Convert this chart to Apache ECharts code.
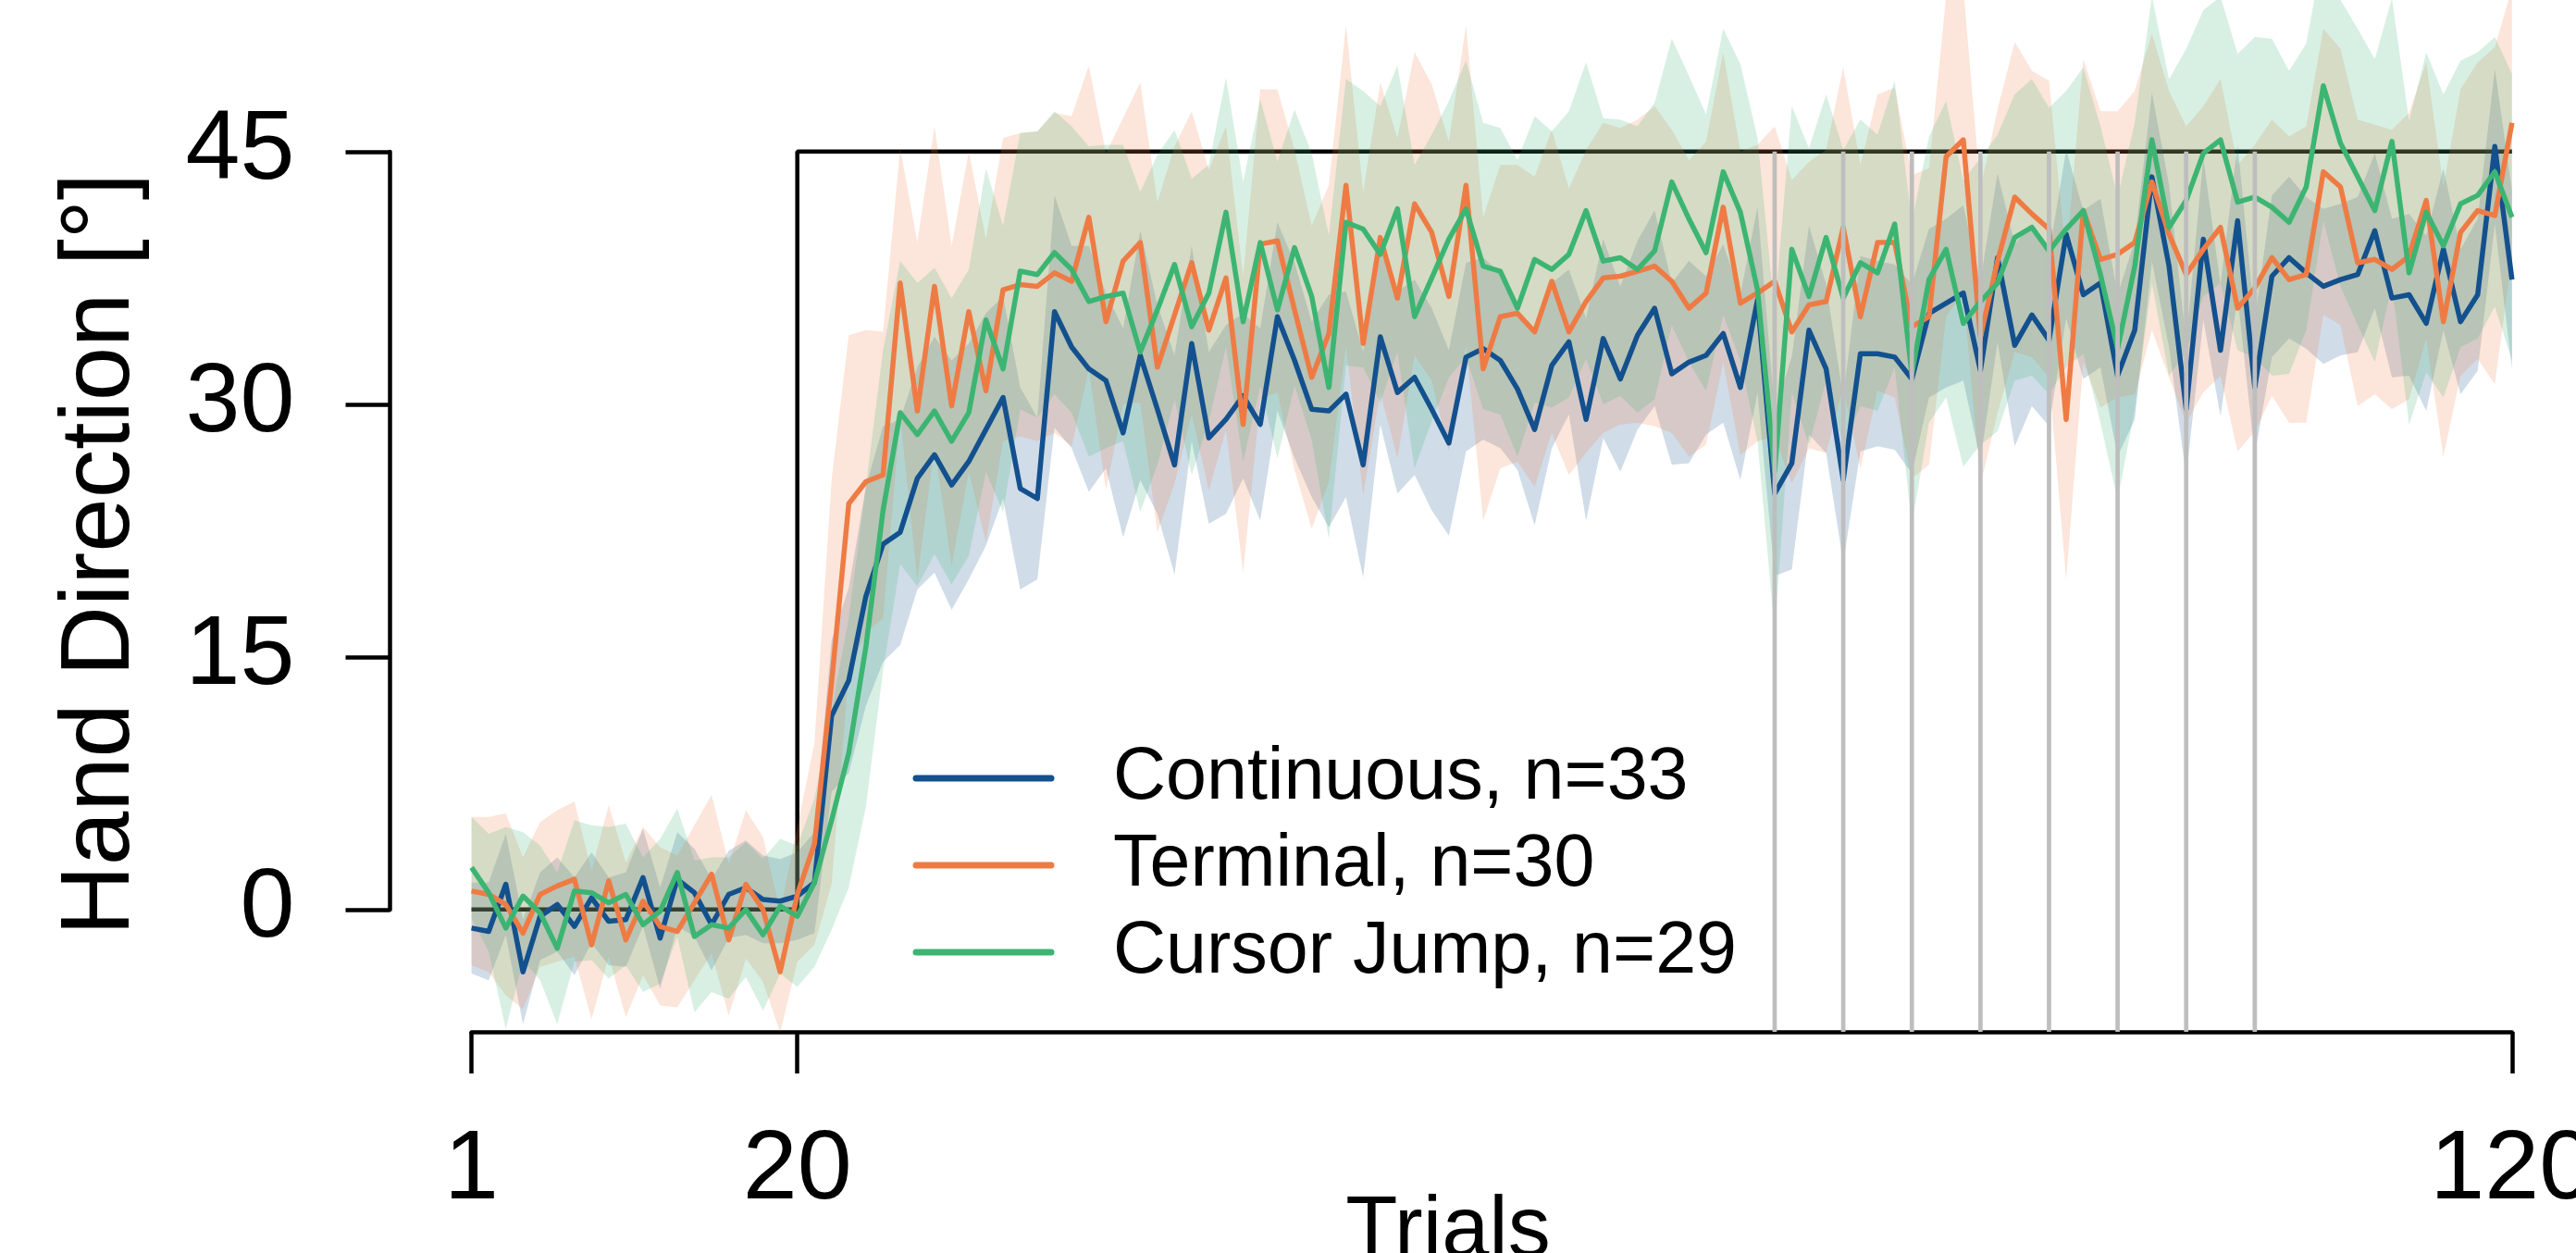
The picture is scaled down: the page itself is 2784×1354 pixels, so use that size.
<!DOCTYPE html>
<html>
<head>
<meta charset="utf-8">
<script src="https://cdn.jsdelivr.net/npm/echarts@6/dist/echarts.min.js"></script>
<style>html,body{margin:0;padding:0;background:#fff}#chart{width:2784px;height:1354px}</style>
</head>
<body>
<div id="chart"></div>
<script>
// ---------------- data ----------------
const seriesNames = ['Continuous, n=33', 'Terminal, n=30', 'Cursor Jump, n=29'];
const xTickValues = [1, 20, 120];
const yTickValues = [0, 15, 30, 45];
const perturbTrials = [1, 20, 20, 120];
const perturbValues = [0, 0, 45, 45];
const probeTrials = [77, 81, 85, 89, 93, 97, 101, 105];

const continuousMean = [
 -1.1,-1.3,1.5,-3.7,-0.4,0.3,-1.0,0.7,-0.7,-0.6,1.9,-1.7,1.8,1.0,-0.9,0.9,1.3,0.6,0.5,0.8,
 1.6,11.5,13.6,18.6,21.7,22.4,25.6,27.0,25.2,26.6,28.5,30.4,25.0,24.4,35.5,33.4,32.1,31.4,28.3,32.9,
 29.7,26.4,33.6,28.0,29.1,30.5,28.8,35.2,32.6,29.7,29.6,30.6,26.4,34.0,30.7,31.6,29.7,27.7,32.8,33.3,
 32.6,30.9,28.5,32.3,33.7,29.1,33.9,31.5,34.1,35.7,31.8,32.5,32.9,34.2,31.0,36.2,24.7,26.5,34.4,32.1,
 25.5,33.0,33.0,32.8,31.5,35.4,36.0,36.6,32.0,38.7,33.5,35.3,33.8,40.1,36.5,37.2,31.7,34.4,43.5,38.2,
 29.7,39.8,33.2,40.9,31.0,37.6,38.7,37.8,37.0,37.4,37.7,40.3,36.3,36.5,34.8,39.2,34.9,36.5,45.3,37.4
];
const terminalMean = [
 1.1,0.9,0.3,-1.4,0.9,1.4,1.8,-2.1,1.7,-1.8,0.5,-1.0,-1.3,0.4,2.1,-1.8,1.5,0.0,-3.7,0.9,
 3.9,13.5,24.1,25.4,25.8,37.2,29.6,37.0,29.9,35.5,30.8,36.8,37.1,37.0,37.8,37.3,41.1,34.9,38.5,39.6,
 32.2,35.3,38.4,34.4,37.5,28.8,39.5,39.7,35.6,31.6,34.2,43.0,33.6,39.9,36.3,41.9,40.2,36.4,43.0,32.1,
 35.2,35.4,34.3,37.3,34.3,36.1,37.5,37.6,37.9,38.2,37.3,35.7,36.6,41.7,36.0,36.6,37.3,34.3,35.9,36.1,
 40.5,35.2,39.6,39.6,34.6,35.2,44.7,45.7,34.0,38.5,42.3,41.3,40.4,29.1,41.5,38.6,38.9,39.6,43.2,40.1,
 37.7,39.2,40.5,35.7,36.9,38.7,37.4,37.7,43.8,42.9,38.4,38.6,38.0,38.8,42.1,34.9,40.2,41.5,41.2,46.7
];
const cursorJumpMean = [
 2.5,1.0,-1.1,0.8,-0.2,-2.3,1.1,1.0,0.4,0.9,-0.9,-0.1,2.2,-1.6,-0.9,-1.1,0.0,-1.5,0.2,-0.4,
 1.6,5.3,9.3,15.6,23.7,29.5,28.2,29.6,27.8,29.5,35.0,32.1,37.9,37.7,39.0,38.0,36.1,36.4,36.6,33.1,
 35.6,38.3,34.6,36.6,41.4,34.9,39.6,35.6,39.3,36.4,31.0,40.8,40.4,38.9,41.6,35.2,37.5,39.8,41.6,38.2,
 37.9,35.7,38.6,38.0,38.9,41.5,38.5,38.7,38.0,39.1,43.2,41.0,39.0,43.8,41.4,36.8,26.0,39.2,36.4,39.9,
 36.3,38.4,37.8,40.7,31.8,37.4,39.2,34.8,36.1,37.2,39.9,40.5,39.1,40.4,41.5,37.7,33.3,38.2,45.7,40.5,
 42.1,44.9,45.7,42.0,42.3,41.7,40.8,42.9,48.9,45.5,43.5,41.5,45.6,37.8,41.4,39.4,41.9,42.4,43.8,41.1
];
// half-widths of the shaded confidence bands
const continuousCI = [
 2.7,2.9,3.0,3.1,2.6,2.8,2.9,2.7,2.6,2.8,2.9,3.0,2.8,2.6,2.7,2.6,2.8,2.6,2.5,2.6,
 3.0,4.5,5.5,6.5,7.0,6.7,6.6,7.0,7.4,7.0,6.9,6.0,6.0,4.8,6.9,6.0,7.3,5.2,6.2,7.4,
 6.2,6.5,5.8,5.1,5.6,4.9,5.7,5.6,5.8,5.2,6.9,6.1,6.7,5.2,6.0,5.8,6.0,5.5,5.6,5.4,
 5.2,4.8,5.7,4.9,4.3,6.0,5.9,5.5,5.6,5.8,5.4,6.0,4.7,5.3,5.5,5.5,4.9,6.3,6.2,5.0,
 4.9,5.8,5.5,5.5,5.6,5.0,5.0,5.2,5.3,5.0,6.0,5.4,5.1,5.0,5.0,5.0,4.8,5.3,5.0,4.8,
 4.0,4.8,3.9,4.5,4.0,4.8,4.8,4.5,4.6,4.5,4.6,4.6,4.7,4.8,5.2,4.8,4.3,4.5,4.6,5.3
];
const terminalCI = [
 4.4,4.6,5.4,4.5,4.3,4.5,4.6,4.4,4.5,4.6,4.4,4.7,4.5,4.6,4.7,4.5,4.4,4.3,3.6,4.0,
 6.0,12.0,10.0,9.0,8.5,8.0,10.0,9.5,9.5,9.5,9.0,9.0,9.0,9.2,9.5,9.8,9.0,10.0,8.5,9.5,
 9.8,10.0,9.0,9.5,9.0,8.8,9.2,9.0,9.5,9.0,8.8,9.5,9.0,9.2,9.5,9.0,8.8,9.2,9.5,9.0,
 9.0,8.8,9.2,9.0,8.5,9.0,9.2,8.8,9.0,9.5,9.0,8.8,9.0,9.2,9.0,8.8,9.2,9.0,8.5,9.0,
 9.5,9.0,8.8,9.2,9.0,8.8,9.5,9.0,8.8,9.0,9.2,8.5,8.8,9.5,9.0,8.8,8.5,9.0,8.8,8.5,
 8.8,8.5,8.8,8.5,8.5,8.2,8.5,8.8,8.5,8.2,8.5,8.0,8.3,8.5,8.2,8.0,8.5,8.8,10.0,8.0
];
const cursorJumpCI = [
 3.0,3.5,6.0,3.8,4.0,4.5,4.2,4.0,4.5,4.2,4.0,4.3,3.8,4.5,4.0,4.2,4.0,4.5,4.0,4.2,
 5.0,6.5,8.0,9.5,9.5,9.0,9.0,8.5,8.5,8.5,9.0,8.5,8.2,8.5,8.4,8.5,9.2,9.0,8.8,9.5,
 9.2,8.0,8.8,7.6,8.0,8.3,8.5,8.8,8.2,8.5,9.0,8.5,8.2,8.8,8.5,9.0,8.5,8.2,8.8,8.5,
 8.5,8.8,8.5,8.2,8.5,8.8,8.5,8.2,8.5,8.8,8.5,8.5,8.2,8.5,8.8,9.0,9.5,8.5,8.8,8.5,
 8.8,8.5,8.2,8.5,9.0,8.5,8.8,8.5,8.5,8.8,8.5,8.8,8.5,8.2,8.5,8.8,9.0,8.5,8.5,8.8,
 9.0,8.5,8.5,8.8,9.5,10.0,9.0,8.5,8.0,8.5,8.8,9.0,8.5,9.0,9.5,9.0,8.5,8.5,8.0,8.5
];

// ---------------- styles ----------------
const FONT = '"Liberation Sans", Arial, Helvetica, sans-serif';
const lineColors = ['#13508e', '#ef7b44', '#3cb572'];
const bandColors = ['rgba(19,80,142,0.2)', 'rgba(239,123,68,0.2)', 'rgba(60,181,114,0.2)'];
const means = [continuousMean, terminalMean, cursorJumpMean];
const cis = [continuousCI, terminalCI, cursorJumpCI];
const Y_MIN = -7.26, Y_MAX = 54.0;
const trialNumbers = continuousMean.map((_, i) => i + 1);

const chart = echarts.init(document.getElementById('chart'), null, {renderer: 'canvas'});

function bandSeries(k) {
  return {
    type: 'custom', xAxisIndex: 0, yAxisIndex: 0, z: 2, silent: true, clip: false,
    data: [[1, 0]],
    renderItem: function (params, api) {
      const pts = [];
      for (let i = 0; i < trialNumbers.length; i++) pts.push(api.coord([trialNumbers[i], means[k][i] + cis[k][i]]));
      for (let i = trialNumbers.length - 1; i >= 0; i--) pts.push(api.coord([trialNumbers[i], means[k][i] - cis[k][i]]));
      return {type: 'polygon', shape: {points: pts}, style: {fill: bandColors[k], stroke: null}};
    }
  };
}
function meanSeries(k) {
  return {
    type: 'line', name: seriesNames[k], xAxisIndex: 0, yAxisIndex: 0, z: 3, silent: true,
    symbol: 'none', showSymbol: false,
    data: trialNumbers.map((t, i) => [t, means[k][i]]),
    lineStyle: {color: lineColors[k], width: 5.5, join: 'round'},
    itemStyle: {color: lineColors[k]}
  };
}

const legendGraphics = [];
seriesNames.forEach((name, k) => {
  const y = 841 + k * 94;
  legendGraphics.push({type: 'line', shape: {x1: 990, y1: y, x2: 1136, y2: y},
    style: {stroke: lineColors[k], lineWidth: 7, lineCap: 'round'}, z: 10});
  legendGraphics.push({type: 'text', x: 1203, y: y,
    style: {text: name, fontSize: 79, fontFamily: FONT, fill: '#000', align: 'left', verticalAlign: 'middle'}, z: 10});
});

const option = {
  animation: false,
  backgroundColor: '#ffffff',
  grid: [
    {left: 509.6, right: 69.2, top: 0, bottom: 239, containLabel: false, outerBoundsMode: 'none'},
    {left: 421.5, width: 1, top: 164, height: 819, containLabel: false, outerBoundsMode: 'none'}
  ],
  xAxis: [
    {gridIndex: 0, type: 'value', min: 1, max: 120,
     axisLine: {show: true, onZero: false, lineStyle: {color: '#000', width: 4.5}},
     axisTick: {show: true, customValues: xTickValues, length: 45, lineStyle: {color: '#000', width: 4.5}},
     axisLabel: {show: true, customValues: xTickValues, fontSize: 106, fontFamily: FONT, color: '#000', margin: 98,
                 showMinLabel: true, showMaxLabel: true, hideOverlap: false},
     splitLine: {show: false}},
    {gridIndex: 1, type: 'value', min: 0, max: 1, show: false}
  ],
  yAxis: [
    {gridIndex: 0, type: 'value', min: Y_MIN, max: Y_MAX, show: false},
    {gridIndex: 1, type: 'value', min: 0, max: 45, interval: 15, position: 'left',
     axisLine: {show: true, onZero: false, lineStyle: {color: '#000', width: 4.5}},
     axisTick: {show: true, length: 48, lineStyle: {color: '#000', width: 4.5}},
     axisLabel: {show: true, fontSize: 106, fontFamily: FONT, color: '#000', margin: 103,
                 customValues: yTickValues},
     splitLine: {show: false}}
  ],
  series: [
    {type: 'line', name: 'perturbation', xAxisIndex: 0, yAxisIndex: 0, z: 1, silent: true, symbol: 'none',
     data: perturbTrials.map((t, i) => [t, perturbValues[i]]),
     lineStyle: {color: '#000', width: 4.5}},
    bandSeries(0), bandSeries(1), bandSeries(2),
    meanSeries(0), meanSeries(1), meanSeries(2),
    {type: 'custom', xAxisIndex: 0, yAxisIndex: 0, z: 5, silent: true, clip: false,
     data: probeTrials.map(t => [t, 45]),
     renderItem: function (params, api) {
       const top = api.coord([api.value(0), api.value(1)]);
       const bot = api.coord([api.value(0), Y_MIN]);
       return {type: 'line', shape: {x1: top[0], y1: top[1], x2: bot[0], y2: bot[1]},
               style: {stroke: '#bebebe', lineWidth: 4.7}};
     }}
  ],
  graphic: [
    {type: 'text', x: 110, y: 599, rotation: Math.PI / 2,
     style: {text: 'Hand Direction [°]', fontSize: 105, fontFamily: FONT, fill: '#000', align: 'center', verticalAlign: 'middle'}},
    {type: 'text', x: 1565, y: 1332,
     style: {text: 'Trials', fontSize: 92, fontFamily: FONT, fill: '#000', align: 'center', verticalAlign: 'middle'}}
  ].concat(legendGraphics)
};
chart.setOption(option);
</script>
</body>
</html>
